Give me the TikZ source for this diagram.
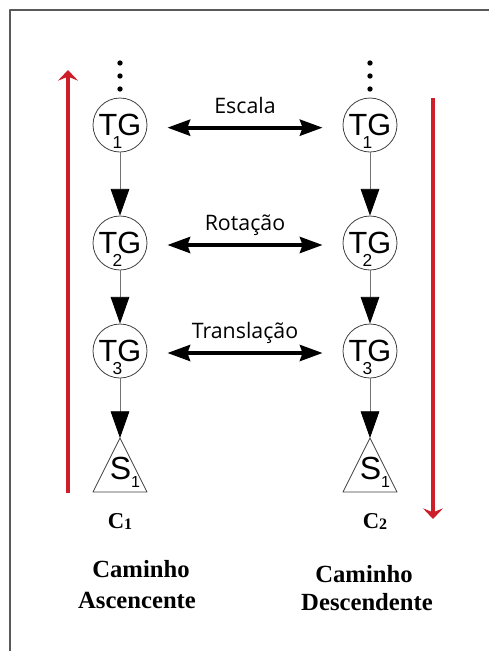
\documentclass[tikz,border=0pt]{standalone}
\usepackage{fontspec}
\setmainfont{Liberation Serif}
\newfontfamily\arialfont{Liberation Sans}
\newfontfamily\labelfont{Open Sans}
\usetikzlibrary{arrows.meta}
\definecolor{pathred}{RGB}{205,30,42}

\newcommand{\tgtext}[1]{T\makebox[0pt]{\raisebox{-10pt}[0pt][0pt]{\fontsize{13}{13}\selectfont #1}}G}

\begin{document}
\begin{tikzpicture}[x=0.75pt,y=-0.75pt,line cap=round,line join=round,
    tgnode/.style={circle,draw=black!75,line width=0.6pt,minimum size=40.5pt,inner sep=0pt,
      font=\arialfont\fontsize{23}{23}\selectfont},
    snode/.style={inner sep=0pt,font=\arialfont\fontsize{24}{24}\selectfont},
    downarrow/.style={draw=black!55,line width=0.6pt,line cap=butt,
      -{Triangle[length=20pt,width=14pt,fill=black,color=black]}},
    linkarrow/.style={line width=3pt,line cap=butt,
      {Stealth[length=17pt,width=12pt,inset=2pt]}-{Stealth[length=17pt,width=12pt,inset=2pt]},
      shorten <=15pt,shorten >=15pt},
    linklabel/.style={anchor=base,yshift=11pt,inner sep=0pt,font=\labelfont\fontsize{16}{16}\selectfont},
    patharrow/.style={draw=pathred,line width=3pt,line cap=butt,
      -{Stealth[length=8pt,width=15pt,inset=3pt,fill=pathred]}},
    pathname/.style={anchor=base,inner sep=0pt,font=\bfseries\fontsize{17}{17}\selectfont},
    pathtext/.style={anchor=base,inner sep=0pt,font=\bfseries\fontsize{18.5}{22}\selectfont}]
  \useasboundingbox (0,0) rectangle (489,651);
  \def\xl{120}
  \def\xr{370}
  \draw[black!65,line width=0.9pt] (10,651) -- (10,10) -- (489,10);

  % left column
  \foreach \y in {63,76,89} \fill (\xl,\y) circle[radius=2pt];
  \node[tgnode] (ltg1) at (\xl,125) {\tgtext1};
  \node[tgnode] (ltg2) at (\xl,243) {\tgtext2};
  \node[tgnode] (ltg3) at (\xl,351) {\tgtext3};
  \coordinate (ls1top) at (\xl,438);
  \draw[black!75,line width=0.6pt] (ls1top) -- ++(-27,54) -- ++(54,0) -- cycle;
  \node[snode] (ls1) at (\xl+5,468) {S\raisebox{-6pt}[0pt][0pt]{\fontsize{12}{12}\selectfont 1}};
  \draw[downarrow] (ltg1) -- (ltg2);
  \draw[downarrow] (ltg2) -- (ltg3);
  \draw[downarrow] (ltg3) -- (ls1top);

  % right column
  \foreach \y in {63,76,89} \fill (\xr,\y) circle[radius=2pt];
  \node[tgnode] (rtg1) at (\xr,125) {\tgtext1};
  \node[tgnode] (rtg2) at (\xr,243) {\tgtext2};
  \node[tgnode] (rtg3) at (\xr,351) {\tgtext3};
  \coordinate (rs1top) at (\xr,438);
  \draw[black!75,line width=0.6pt] (rs1top) -- ++(-27,54) -- ++(54,0) -- cycle;
  \node[snode] (rs1) at (\xr+5,468) {S\raisebox{-6pt}[0pt][0pt]{\fontsize{12}{12}\selectfont 1}};
  \draw[downarrow] (rtg1) -- (rtg2);
  \draw[downarrow] (rtg2) -- (rtg3);
  \draw[downarrow] (rtg3) -- (rs1top);

  % transformations
  \draw[linkarrow] ([yshift=-2pt]ltg1.east) -- node[linklabel] {Escala} ([yshift=-2pt]rtg1.west);
  \draw[linkarrow] ([yshift=-1.5pt]ltg2.east) -- node[linklabel] {Rotação} ([yshift=-1.5pt]rtg2.west);
  \draw[linkarrow] ([yshift=-1.5pt]ltg3.east) -- node[linklabel] {Translação} ([yshift=-1.5pt]rtg3.west);

  % paths
  \coordinate (upstart) at (68,493);
  \coordinate (upend) at (68,70);
  \coordinate (downstart) at (433,98);
  \coordinate (downend) at (433,519);
  \draw[patharrow] (upstart) -- (upend);
  \draw[patharrow] (downstart) -- (downend);

  \node[pathname] (c1) at (120,528) {C\raisebox{-1pt}{\fontsize{12}{12}\selectfont 1}};
  \node[pathname] (c2) at (375,528) {C\raisebox{-1pt}{\fontsize{12}{12}\selectfont 2}};
  \node[pathtext] (lcam) at (141,577) {Caminho};
  \node[pathtext] (lasc) at (137,608) {Ascencente};
  \node[pathtext] (rcam) at (364,582) {Caminho};
  \node[pathtext] (rdesc) at (367,610) {Descendente};
\end{tikzpicture}
\end{document}
